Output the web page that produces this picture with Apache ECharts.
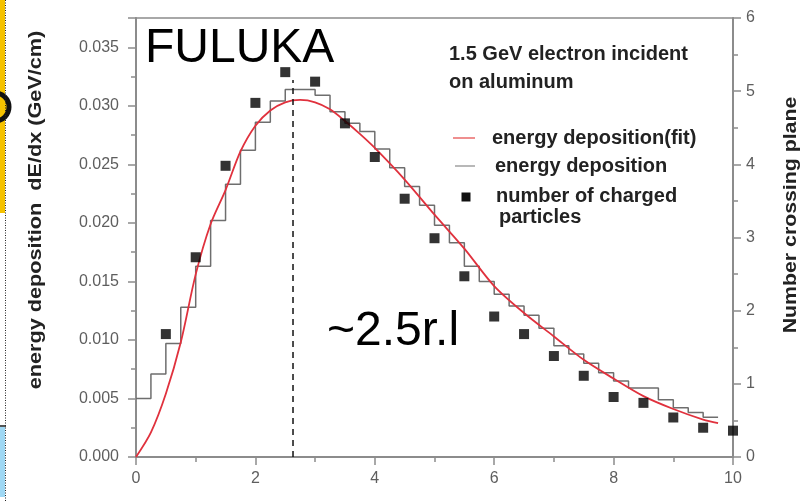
<!DOCTYPE html>
<html>
<head>
<meta charset="utf-8">
<script src="https://cdn.jsdelivr.net/npm/echarts@6/dist/echarts.min.js"></script>
<style>
  html, body { margin: 0; padding: 0; background: #fff; }
  #chart { width: 805px; height: 501px; }
</style>
</head>
<body>
<div id="chart"></div>
<script>
// Depth in radiation lengths (x), energy deposition dE/dx (GeV/cm), particle counts.
const binStarts = [0, 0.25, 0.5, 0.75, 1, 1.25, 1.5, 1.75, 2, 2.25, 2.5, 2.75, 3, 3.25, 3.5, 3.75,
  4, 4.25, 4.5, 4.75, 5, 5.25, 5.5, 5.75, 6, 6.25, 6.5, 6.75, 7, 7.25, 7.5, 7.75,
  8, 8.25, 8.5, 8.75, 9, 9.25, 9.5];
const binEnd = 9.75;
const depositHist = [0.0050, 0.0071, 0.0097, 0.0128, 0.0163, 0.0202, 0.0233, 0.0262, 0.0286, 0.0304,
  0.0314, 0.0314, 0.0309, 0.0295, 0.0285, 0.0278, 0.0263, 0.0247, 0.0231, 0.0215,
  0.0198, 0.0183, 0.0163, 0.0150, 0.0139, 0.0129, 0.0121, 0.0110, 0.0095, 0.0088,
  0.0080, 0.0072, 0.0065, 0.0059, 0.0059, 0.0049, 0.0042, 0.0038, 0.0034];

const fitX = [0, 0.25, 0.5, 0.75, 1, 1.25, 1.5, 1.75, 2, 2.25, 2.5, 2.75, 3, 3.25, 3.5, 3.75,
  4, 4.5, 5, 5.5, 6, 6.5, 7, 7.5, 8, 8.5, 9, 9.5, 9.75];
const fitY = [0, 0.0021, 0.0054, 0.0098, 0.0156, 0.0199, 0.0228, 0.0261, 0.0283, 0.0296, 0.0303, 0.0305,
  0.0303, 0.0297, 0.0287, 0.0276, 0.0264, 0.0237, 0.0207, 0.0178, 0.0146, 0.0123, 0.0103,
  0.0083, 0.0067, 0.0052, 0.0041, 0.0032, 0.0029];

const particleX = [0.5, 1, 1.5, 2, 2.5, 3, 3.5, 4, 4.5, 5, 5.5, 6, 6.5, 7, 7.5, 8, 8.5, 9, 9.5, 10];
const particleN = [1.68, 2.73, 3.98, 4.84, 5.26, 5.13, 4.56, 4.10, 3.53, 2.99, 2.47, 1.92, 1.68,
  1.38, 1.11, 0.82, 0.74, 0.54, 0.40, 0.36];

const showerMaxX = 2.63;
const showerMaxTop = 0.0322;

const xTicks = { min: 0, max: 10, interval: 2 };
const leftTicks = { min: 0, max: 0.0375, interval: 0.005 };
const rightTicks = { min: 0, max: 6, interval: 1 };

const histData = binStarts.map((x, i) => [x, depositHist[i]]);
histData.push([binEnd, depositHist[depositHist.length - 1]]);
const fitData = fitX.map((x, i) => [x, fitY[i]]);
const particleData = particleX.map((x, i) => [x, particleN[i]]);

const AXIS_GREY = '#8c8c8c';
const LABEL_GREY = '#5e5e5e';
const FONT = 'Liberation Sans, Arial, Helvetica, sans-serif';

const axisCommon = {
  axisLine: { show: true, onZero: false, lineStyle: { color: AXIS_GREY, width: 2 } },
  axisTick: { show: true, inside: false, length: 8, lineStyle: { color: AXIS_GREY, width: 1.5 } },
  minorTick: { show: true, splitNumber: 2, length: 5, lineStyle: { color: AXIS_GREY, width: 1.5 } },
  splitLine: { show: false },
  minorSplitLine: { show: false }
};

const chart = echarts.init(document.getElementById('chart'), null, { renderer: 'canvas' });

chart.setOption({
  backgroundColor: '#fff',
  animation: false,
  grid: {
    left: 136, right: 72, top: 18, bottom: 44,
    show: true, borderColor: AXIS_GREY, borderWidth: 1.5, backgroundColor: 'transparent'
  },
  xAxis: Object.assign({
    type: 'value', min: xTicks.min, max: xTicks.max, interval: xTicks.interval,
    axisLabel: { color: LABEL_GREY, fontSize: 16, fontFamily: FONT, margin: 14 }
  }, axisCommon),
  yAxis: [
    Object.assign({
      type: 'value', position: 'left', min: leftTicks.min, max: leftTicks.max, interval: leftTicks.interval,
      axisLabel: {
        color: LABEL_GREY, fontSize: 16, fontFamily: FONT, margin: 17,
        formatter: v => {
          const k = v / leftTicks.interval;
          return Math.abs(k - Math.round(k)) < 1e-6 ? v.toFixed(3) : '';
        }
      }
    }, axisCommon),
    Object.assign({
      type: 'value', position: 'right', min: rightTicks.min, max: rightTicks.max, interval: rightTicks.interval,
      axisLabel: { color: LABEL_GREY, fontSize: 16, fontFamily: FONT, margin: 13 }
    }, axisCommon)
  ],
  series: [
    {
      name: 'energy deposition',
      type: 'line', step: 'end', data: histData, yAxisIndex: 0,
      symbol: 'none', lineStyle: { color: '#6e6e6e', width: 1.5 }, z: 2
    },
    {
      name: 'energy deposition(fit)',
      type: 'line', smooth: 0.3, data: fitData, yAxisIndex: 0,
      symbol: 'none', lineStyle: { color: '#e0313d', width: 1.8 }, z: 3
    },
    {
      name: 'number of charged particles',
      type: 'scatter', data: particleData, yAxisIndex: 1,
      symbol: 'rect', symbolSize: 10, itemStyle: { color: '#000' }, z: 4
    },
    {
      name: 'shower maximum',
      type: 'line', data: [[showerMaxX, 0], [showerMaxX, showerMaxTop]], yAxisIndex: 0,
      symbol: 'none', lineStyle: { color: '#111', width: 1.5, type: [6, 5] }, z: 5
    }
  ],
  graphic: [
    // slide fragments on the left edge
    { type: 'rect', shape: { x: 0, y: 0, width: 5, height: 213 }, style: { fill: '#f5c200' }, silent: true },
    { type: 'circle', shape: { cx: -5, cy: 107, r: 14 }, style: { fill: '#f5c200', stroke: '#111', lineWidth: 5 }, silent: true },
    { type: 'rect', shape: { x: 0, y: 427, width: 5, height: 70 }, style: { fill: '#9fd8f4' }, silent: true },
    { type: 'line', shape: { x1: 0, y1: 426, x2: 6, y2: 426 }, style: { stroke: '#555', lineWidth: 2 }, silent: true },
    { type: 'line', shape: { x1: 5.5, y1: 0, x2: 5.5, y2: 501 }, style: { stroke: '#222', lineWidth: 1, lineDash: [1, 1.5] }, silent: true },

    // axis titles
    { type: 'text', x: 36, y: 210, rotation: Math.PI / 2, scaleX: 1.14,
      style: { text: 'energy deposition  dE/dx (GeV/cm)', font: 'bold 19px ' + FONT, fill: '#222',
        textAlign: 'center', textVerticalAlign: 'middle' } },
    { type: 'text', x: 791, y: 215, rotation: Math.PI / 2, scaleX: 1.12,
      style: { text: 'Number crossing plane', font: 'bold 19px ' + FONT, fill: '#222',
        textAlign: 'center', textVerticalAlign: 'middle' } },

    // annotations
    { type: 'text', x: 145, y: 49,
      style: { text: 'FULUKA', font: '48px ' + FONT, fill: '#000', textAlign: 'left', textVerticalAlign: 'middle' } },
    { type: 'text', x: 327, y: 332,
      style: { text: '~2.5r.l', font: '48px ' + FONT, fill: '#000', textAlign: 'left', textVerticalAlign: 'middle' } },

    // caption and key
    { type: 'text', x: 449, y: 54,
      style: { text: '1.5 GeV electron incident', font: 'bold 20px ' + FONT, fill: '#222', textVerticalAlign: 'middle' } },
    { type: 'text', x: 449, y: 82,
      style: { text: 'on aluminum', font: 'bold 20px ' + FONT, fill: '#222', textVerticalAlign: 'middle' } },
    { type: 'line', shape: { x1: 453, y1: 138, x2: 475, y2: 138 }, style: { stroke: '#ea6a6a', lineWidth: 1.5 } },
    { type: 'text', x: 492, y: 138,
      style: { text: 'energy deposition(fit)', font: 'bold 20px ' + FONT, fill: '#222', textVerticalAlign: 'middle' } },
    { type: 'line', shape: { x1: 455, y1: 166, x2: 475, y2: 166 }, style: { stroke: '#a0a0a0', lineWidth: 1.5 } },
    { type: 'text', x: 495, y: 166,
      style: { text: 'energy deposition', font: 'bold 20px ' + FONT, fill: '#222', textVerticalAlign: 'middle' } },
    { type: 'rect', shape: { x: 461.5, y: 192.5, width: 9, height: 9 }, style: { fill: '#111' } },
    { type: 'text', x: 496, y: 196,
      style: { text: 'number of charged', font: 'bold 20px ' + FONT, fill: '#222', textVerticalAlign: 'middle' } },
    { type: 'text', x: 499, y: 217,
      style: { text: 'particles', font: 'bold 20px ' + FONT, fill: '#222', textVerticalAlign: 'middle' } }
  ]
});
</script>
</body>
</html>
